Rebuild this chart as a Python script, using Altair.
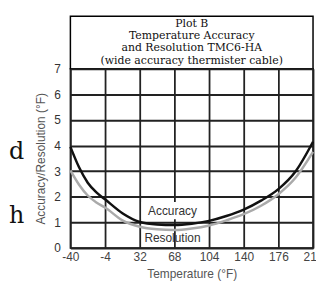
import altair as alt
import pandas as pd

# ---- data ----
temps = [-40, -31, -22, -13, -4, 14, 32, 50, 68, 86, 104, 122, 140, 158, 176, 194, 212]
accuracy = [3.95, 3.15, 2.55, 2.17, 1.9, 1.36, 1.02, 0.92, 0.9, 0.95, 1.06, 1.25, 1.5, 1.85, 2.3, 3.0, 4.15]
resolution = [3.03, 2.47, 2.05, 1.78, 1.58, 1.08, 0.83, 0.73, 0.7, 0.76, 0.88, 1.08, 1.32, 1.65, 2.1, 2.75, 3.75]

x_ticks = [-40, -4, 32, 68, 104, 140, 176, 212]
y_ticks = [0, 1, 2, 3, 4, 5, 6, 7]

title_lines = ["Plot B", "Temperature Accuracy", "and Resolution TMC6-HA",
               "(wide accuracy thermister cable)"]

label_names = ["Accuracy", "Resolution"]
label_x = [66, 66]
label_y = [1.43, 0.39]

# white box behind the "Accuracy" label
box_x, box_x2, box_y, box_y2 = [34], [100], [1.12], [1.8]

# stray page text at the left edge of the crop
stray_text = ["d", "h"]
stray_py = [91, 156]

# ---- tables ----
acc_df = pd.DataFrame({"t": temps, "v": accuracy})
res_df = pd.DataFrame({"t": temps, "v": resolution})
lab_df = pd.DataFrame({"name": label_names, "t": label_x, "v": label_y})
box_df = pd.DataFrame({"t": box_x, "t2": box_x2, "v": box_y, "v2": box_y2})
title_df = pd.DataFrame({"line": title_lines, "i": list(range(len(title_lines)))})
stray_df = pd.DataFrame({"s": stray_text, "py": stray_py})

W, H = 245, 181
sans = "Liberation Sans"
serif = "DejaVu Serif"

xs = alt.Scale(domain=[-40, 212], nice=False, zero=False)
ys = alt.Scale(domain=[0, 7], nice=False)

xaxis = alt.Axis(values=x_ticks, tickCount=20, title="Temperature (°F)", grid=True, gridColor="#222",
                 gridWidth=1.8, ticks=False, domain=False, labelFont=sans, labelFontSize=12,
                 labelColor="#444", labelPadding=4, labelFlush=False, labelOverlap=False,
                 labelExpr="toString(datum.value)", titleFont=sans,
                 titleFontSize=12, titleFontWeight="normal", titleColor="#555", titlePadding=6)
yaxis = alt.Axis(values=y_ticks, tickCount=20, title="Accuracy/Resolution (°F)", grid=True,
                 gridColor="#222", gridWidth=1.8, ticks=False, domain=False, labelFont=sans,
                 labelFontSize=12, labelColor="#333", labelPadding=10, labelFlush=False,
                 labelOverlap=False, labelExpr="toString(datum.value)", titleFont=sans,
                 titleFontSize=12, titleFontWeight="normal", titleColor="#555", titlePadding=6)

base_res = alt.Chart(res_df).mark_line(interpolate="monotone", strokeWidth=2.5, color="#aaaaaa").encode(
    x=alt.X("t:Q", scale=xs, axis=xaxis),
    y=alt.Y("v:Q", scale=ys, axis=yaxis),
)
acc_line = alt.Chart(acc_df).mark_line(interpolate="monotone", strokeWidth=2.5, color="#111111").encode(
    x=alt.X("t:Q", scale=xs), y=alt.Y("v:Q", scale=ys)
)
box = alt.Chart(box_df).mark_rect(color="white").encode(
    x=alt.X("t:Q", scale=xs), x2="t2", y=alt.Y("v:Q", scale=ys), y2="v2"
)
labels = alt.Chart(lab_df).mark_text(font=sans, fontSize=12, color="#333").encode(
    x=alt.X("t:Q", scale=xs), y=alt.Y("v:Q", scale=ys), text="name:N"
)
stray = alt.Chart(stray_df).mark_text(font=serif, fontSize=24, color="#111", align="left",
                                      baseline="alphabetic").encode(
    x=alt.value(-62), y=alt.Y("py:Q", scale=None), text="s:N"
)

main = alt.layer(base_res, box, acc_line, labels, stray).properties(width=W, height=H)

top = alt.Chart(title_df).mark_text(font=serif, fontSize=11, color="#111").encode(
    y=alt.Y("i:O", axis=None, scale=alt.Scale(type="point", padding=0.68)),
    text="line:N",
).properties(width=W, height=53)

chart = alt.vconcat(top, main, spacing=0, bounds="flush").configure_view(
    stroke="black", strokeWidth=1.5
).properties(padding={"left": 0, "top": 6, "right": -8, "bottom": 0})

chart.save("out.html", embed_options={"renderer": "svg", "actions": False})
